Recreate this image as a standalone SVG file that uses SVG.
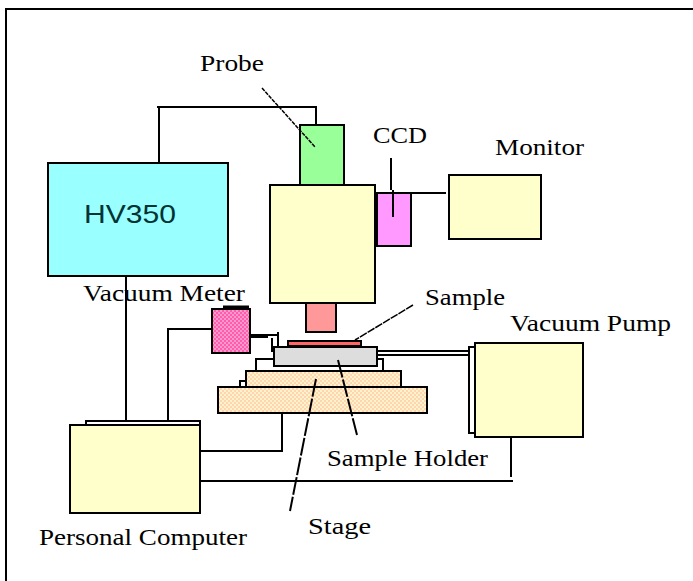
<svg xmlns="http://www.w3.org/2000/svg" width="693" height="581" viewBox="0 0 693 581">
<defs>
<pattern id="dotPink" width="4" height="4" patternUnits="userSpaceOnUse"><rect width="4" height="4" fill="#ff99cc"/><rect width="2" height="2" fill="#ff5cb0"/><rect x="2" y="2" width="2" height="2" fill="#ff5cb0"/></pattern>
<pattern id="dotTan" width="4" height="4" patternUnits="userSpaceOnUse"><rect width="4" height="4" fill="#fff2cc"/><rect width="2" height="2" fill="#fdd5ae"/><rect x="2" y="2" width="2" height="2" fill="#fdd5ae"/></pattern>
</defs>
<style>
.box{stroke:#000;stroke-width:2}
.cream{fill:#ffffcc}
.w{fill:none;stroke:#000;stroke-width:2}
.thin{fill:none;stroke:#000;stroke-width:1.5}
text{font-family:"Liberation Serif","DejaVu Serif",serif;font-size:23px;fill:#000}
</style>
<rect width="693" height="581" fill="#fff"/>
<path id="frame" d="M6 581V9H693" fill="none" stroke="#000" stroke-width="2"/>
<g id="connectors">
<path class="w" d="M157 107H316V125M159 107V163"/>
<path class="w" d="M126 277V421"/>
<path class="w" d="M212 329H168V421"/>
<path class="w" d="M86 425V421H200V425"/>
<path class="w" d="M282 413V451H200"/>
<path class="w" d="M200 481H513"/>
<path class="w" d="M511 437V477"/>
<path class="w" d="M376 193H446"/>
<path class="w" d="M377 351H470M377 355H470"/>
<path class="w" d="M475 347H469V433H475"/>
<path class="w" d="M256 371V359H274M377 359H383V371"/>
<path class="w" d="M240 387V381H246"/>
<path d="M251 336H268" stroke="#000" stroke-width="4" fill="none"/>
<path d="M268 335H278M278 332V346M272 338V352" class="w"/>
</g>
<g id="hv350"><rect class="box" x="48" y="163" width="180" height="113" fill="#99ffff"/><text x="84" y="223" textLength="92" lengthAdjust="spacingAndGlyphs" style="font-family:'Liberation Sans',sans-serif;font-size:25px;fill:#003333">HV350</text></g>
<g id="microscope"><rect class="box cream" x="270" y="185" width="105" height="118"/></g>
<g id="probe"><rect class="box" x="300" y="125" width="44" height="60" fill="#99ff99"/></g>
<g id="ccd"><rect class="box" x="377" y="193" width="34" height="53" fill="#ff99ff"/></g>
<g id="monitor"><rect class="box cream" x="449" y="175" width="92" height="64"/></g>
<g id="objective"><rect class="box" x="306" y="303" width="30" height="29" fill="#ff9999"/></g>
<g id="vacuum-meter"><rect class="box" x="212" y="309" width="38" height="44" fill="url(#dotPink)"/><path d="M223 307H249" stroke="#000" stroke-width="3"/></g>
<g id="sample"><rect x="288" y="341" width="73" height="5" fill="#ff6666" stroke="#000" stroke-width="2"/></g>
<g id="sample-holder"><rect class="box" x="274" y="347" width="103" height="19" fill="#dddddd"/></g>
<g id="stage-upper"><rect class="box" x="246" y="371" width="155" height="16" fill="url(#dotTan)"/></g>
<g id="stage-lower"><rect class="box" x="218" y="387" width="209" height="26" fill="url(#dotTan)"/></g>
<g id="computer"><rect class="box cream" x="70" y="425" width="130" height="88"/></g>
<g id="pump"><rect class="box cream" x="475" y="343" width="108" height="94"/></g>
<g id="leaders">
<path d="M262 88L315 147" stroke="#000" stroke-width="1.5" stroke-dasharray="4 1" fill="none"/>
<path class="w" d="M391 158V190M393 190V217"/>
<path d="M413 305L355 340" class="thin" stroke-dasharray="8 1"/>
<path d="M338 360L357 435" class="w" stroke-dasharray="18 2"/>
<path d="M316 379L290 511" class="w" stroke-dasharray="18 2"/>
</g>
<g id="labels">
<text x="200" y="71" textLength="64" lengthAdjust="spacingAndGlyphs">Probe</text>
<text x="373" y="143" textLength="54" lengthAdjust="spacingAndGlyphs">CCD</text>
<text x="495" y="155" textLength="89" lengthAdjust="spacingAndGlyphs">Monitor</text>
<text x="425" y="305" textLength="80" lengthAdjust="spacingAndGlyphs">Sample</text>
<text x="510" y="331" textLength="161" lengthAdjust="spacingAndGlyphs">Vacuum Pump</text>
<text x="83" y="301" textLength="162" lengthAdjust="spacingAndGlyphs">Vacuum Meter</text>
<text x="327" y="466" textLength="161" lengthAdjust="spacingAndGlyphs">Sample Holder</text>
<text x="308" y="534" textLength="63" lengthAdjust="spacingAndGlyphs">Stage</text>
<text x="39" y="545" textLength="208" lengthAdjust="spacingAndGlyphs">Personal Computer</text>
</g>
</svg>
